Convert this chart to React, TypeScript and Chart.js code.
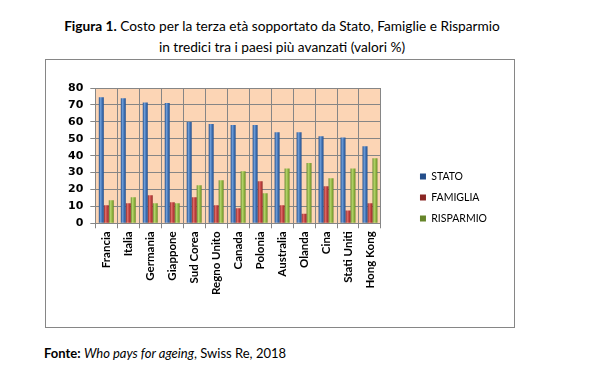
import React, { useEffect, useRef } from "react";
import { Chart, registerables } from "chart.js";

Chart.register(...registerables);

const categories = [
  "Francia", "Italia", "Germania", "Giappone", "Sud Corea", "Regno Unito", "Canada",
  "Polonia", "Australia", "Olanda", "Cina", "Stati Uniti", "Hong Kong",
];
const stato = [74.5, 73.9, 71.5, 71.1, 59.9, 58.7, 58.1, 58.1, 53.8, 53.8, 51.4, 50.8, 45.5];
const famiglia = [10.7, 11.9, 16.6, 12.5, 15.4, 10.7, 8.9, 24.9, 10.7, 5.7, 21.9, 7.5, 11.9];
const risparmio = [13.6, 15.4, 11.9, 11.9, 22.5, 25.5, 30.8, 17.8, 32.4, 35.6, 26.7, 32.4, 38.5];
const seriesNames = ["STATO", "FAMIGLIA", "RISPARMIO"];
const yMin = 0;
const yMax = 80;
const yStep = 10;

function barFill(base: string, light: string, dark: string) {
  return (c: any) => {
    const el = c.element;
    if (!el || typeof el.x !== "number" || !isFinite(el.x) || !el.width) return base;
    const x0 = el.x - el.width / 2;
    const x1 = el.x + el.width / 2;
    const g = c.chart.ctx.createLinearGradient(x0, 0, x1, 0);
    g.addColorStop(0, dark);
    g.addColorStop(0.35, light);
    g.addColorStop(0.7, base);
    g.addColorStop(1, dark);
    return g;
  };
}

const plotBg = {
  id: "plotBg",
  beforeDraw(chart: any) {
    const ctx = chart.ctx;
    const a = chart.chartArea;
    if (!a) return;
    ctx.save();
    ctx.fillStyle = "#FCD5B5";
    ctx.fillRect(a.left, a.top, a.right - a.left, a.bottom - a.top);
    ctx.restore();
  },
};

export default function App() {
  const ref = useRef<HTMLCanvasElement | null>(null);

  useEffect(() => {
    let chart: Chart | null = null;
    let cancelled = false;
    const build = () => {
      if (cancelled || !ref.current) return;
      chart = new Chart(ref.current, {
        type: "bar",
        data: {
          labels: categories,
          datasets: [
            {
              label: seriesNames[0],
              data: stato,
              backgroundColor: barFill("#3C6DB0", "#6C9BD6", "#234E8A") as any,
            },
            {
              label: seriesNames[1],
              data: famiglia,
              backgroundColor: barFill("#C0403F", "#DD6A67", "#8A2724") as any,
            },
            {
              label: seriesNames[2],
              data: risparmio,
              backgroundColor: barFill("#8FB43E", "#B3D26A", "#66852A") as any,
            },
          ],
        },
        options: {
          animation: false,
          responsive: false,
          maintainAspectRatio: false,
          layout: { padding: { left: 15, top: 28, bottom: 29, right: 17 } },
          datasets: {
            bar: { categoryPercentage: 0.68, barPercentage: 1 },
          },
          plugins: {
            title: { display: false },
            tooltip: { enabled: false },
            legend: {
              position: "right",
              align: "center",
              maxWidth: 120,
              title: { display: true, text: "", padding: 0, font: { size: 9, lineHeight: 1 } },
              labels: {
                boxWidth: 6,
                boxHeight: 6,
                padding: 10.5,
                color: "#000",
                font: { family: "Lato", size: 10.5 },
              },
            },
          },
          scales: {
            x: {
              grid: { color: "#868686", lineWidth: 1, tickLength: 5, offset: true },
              border: { color: "#868686" },
              ticks: {
                minRotation: 90,
                maxRotation: 90,
                autoSkip: false,
                padding: 3,
                color: "#000",
                font: { family: "Lato", size: 11.5, weight: "bold" },
              },
            },
            y: {
              min: yMin,
              max: yMax,
              grid: { color: "#868686", lineWidth: 1, tickLength: 5 },
              border: { color: "#868686" },
              ticks: {
                stepSize: yStep,
                padding: 7,
                color: "#000",
                font: { family: "DejaVu Sans", size: 11, weight: "bold" },
              },
            },
            spacer: {
              type: "linear",
              position: "right",
              display: true,
              grid: { display: false },
              border: { display: false },
              ticks: { display: false },
              afterFit: (s: any) => {
                s.width = 28.5;
              },
            },
          },
        } as any,
        plugins: [plotBg],
      });
      chart.update();
    };
    const fonts: any = (document as any).fonts;
    if (fonts && fonts.load) {
      Promise.all([
        fonts.load("10.5px Lato"),
        fonts.load("bold 12px Lato"),
        fonts.load("bold 11px 'DejaVu Sans'"),
      ])
        .catch(() => null)
        .then(() => build());
    } else {
      build();
    }
    return () => {
      cancelled = true;
      if (chart) chart.destroy();
    };
  }, []);

  return (
    <div style={{ position: "absolute", left: 0, top: 0, width: 590, height: 372, background: "#fff", fontFamily: "Lato" }}>
      <div
        style={{
          position: "absolute",
          left: 0,
          top: 15,
          width: 564,
          textAlign: "center",
          fontSize: 13.7,
          lineHeight: "21px",
          color: "#000",
          whiteSpace: "nowrap",
        }}
      >
        <b>Figura 1.</b> Costo per la terza età sopportato da Stato, Famiglie e Risparmio
        <br />
        in tredici tra i paesi più avanzati (valori %)
      </div>
      <div
        style={{
          position: "absolute",
          left: 45,
          top: 59,
          width: 468,
          height: 267,
          border: "1px solid #868686",
        }}
      >
        <canvas ref={ref} width={468} height={267} style={{ display: "block", width: 468, height: 267 }} />
      </div>
      <div style={{ position: "absolute", left: 44, top: 345, fontSize: 13, lineHeight: "16px", color: "#000", whiteSpace: "nowrap" }}>
        <b>Fonte:</b> <i>Who pays for ageing</i>, Swiss Re, 2018
      </div>
    </div>
  );
}
